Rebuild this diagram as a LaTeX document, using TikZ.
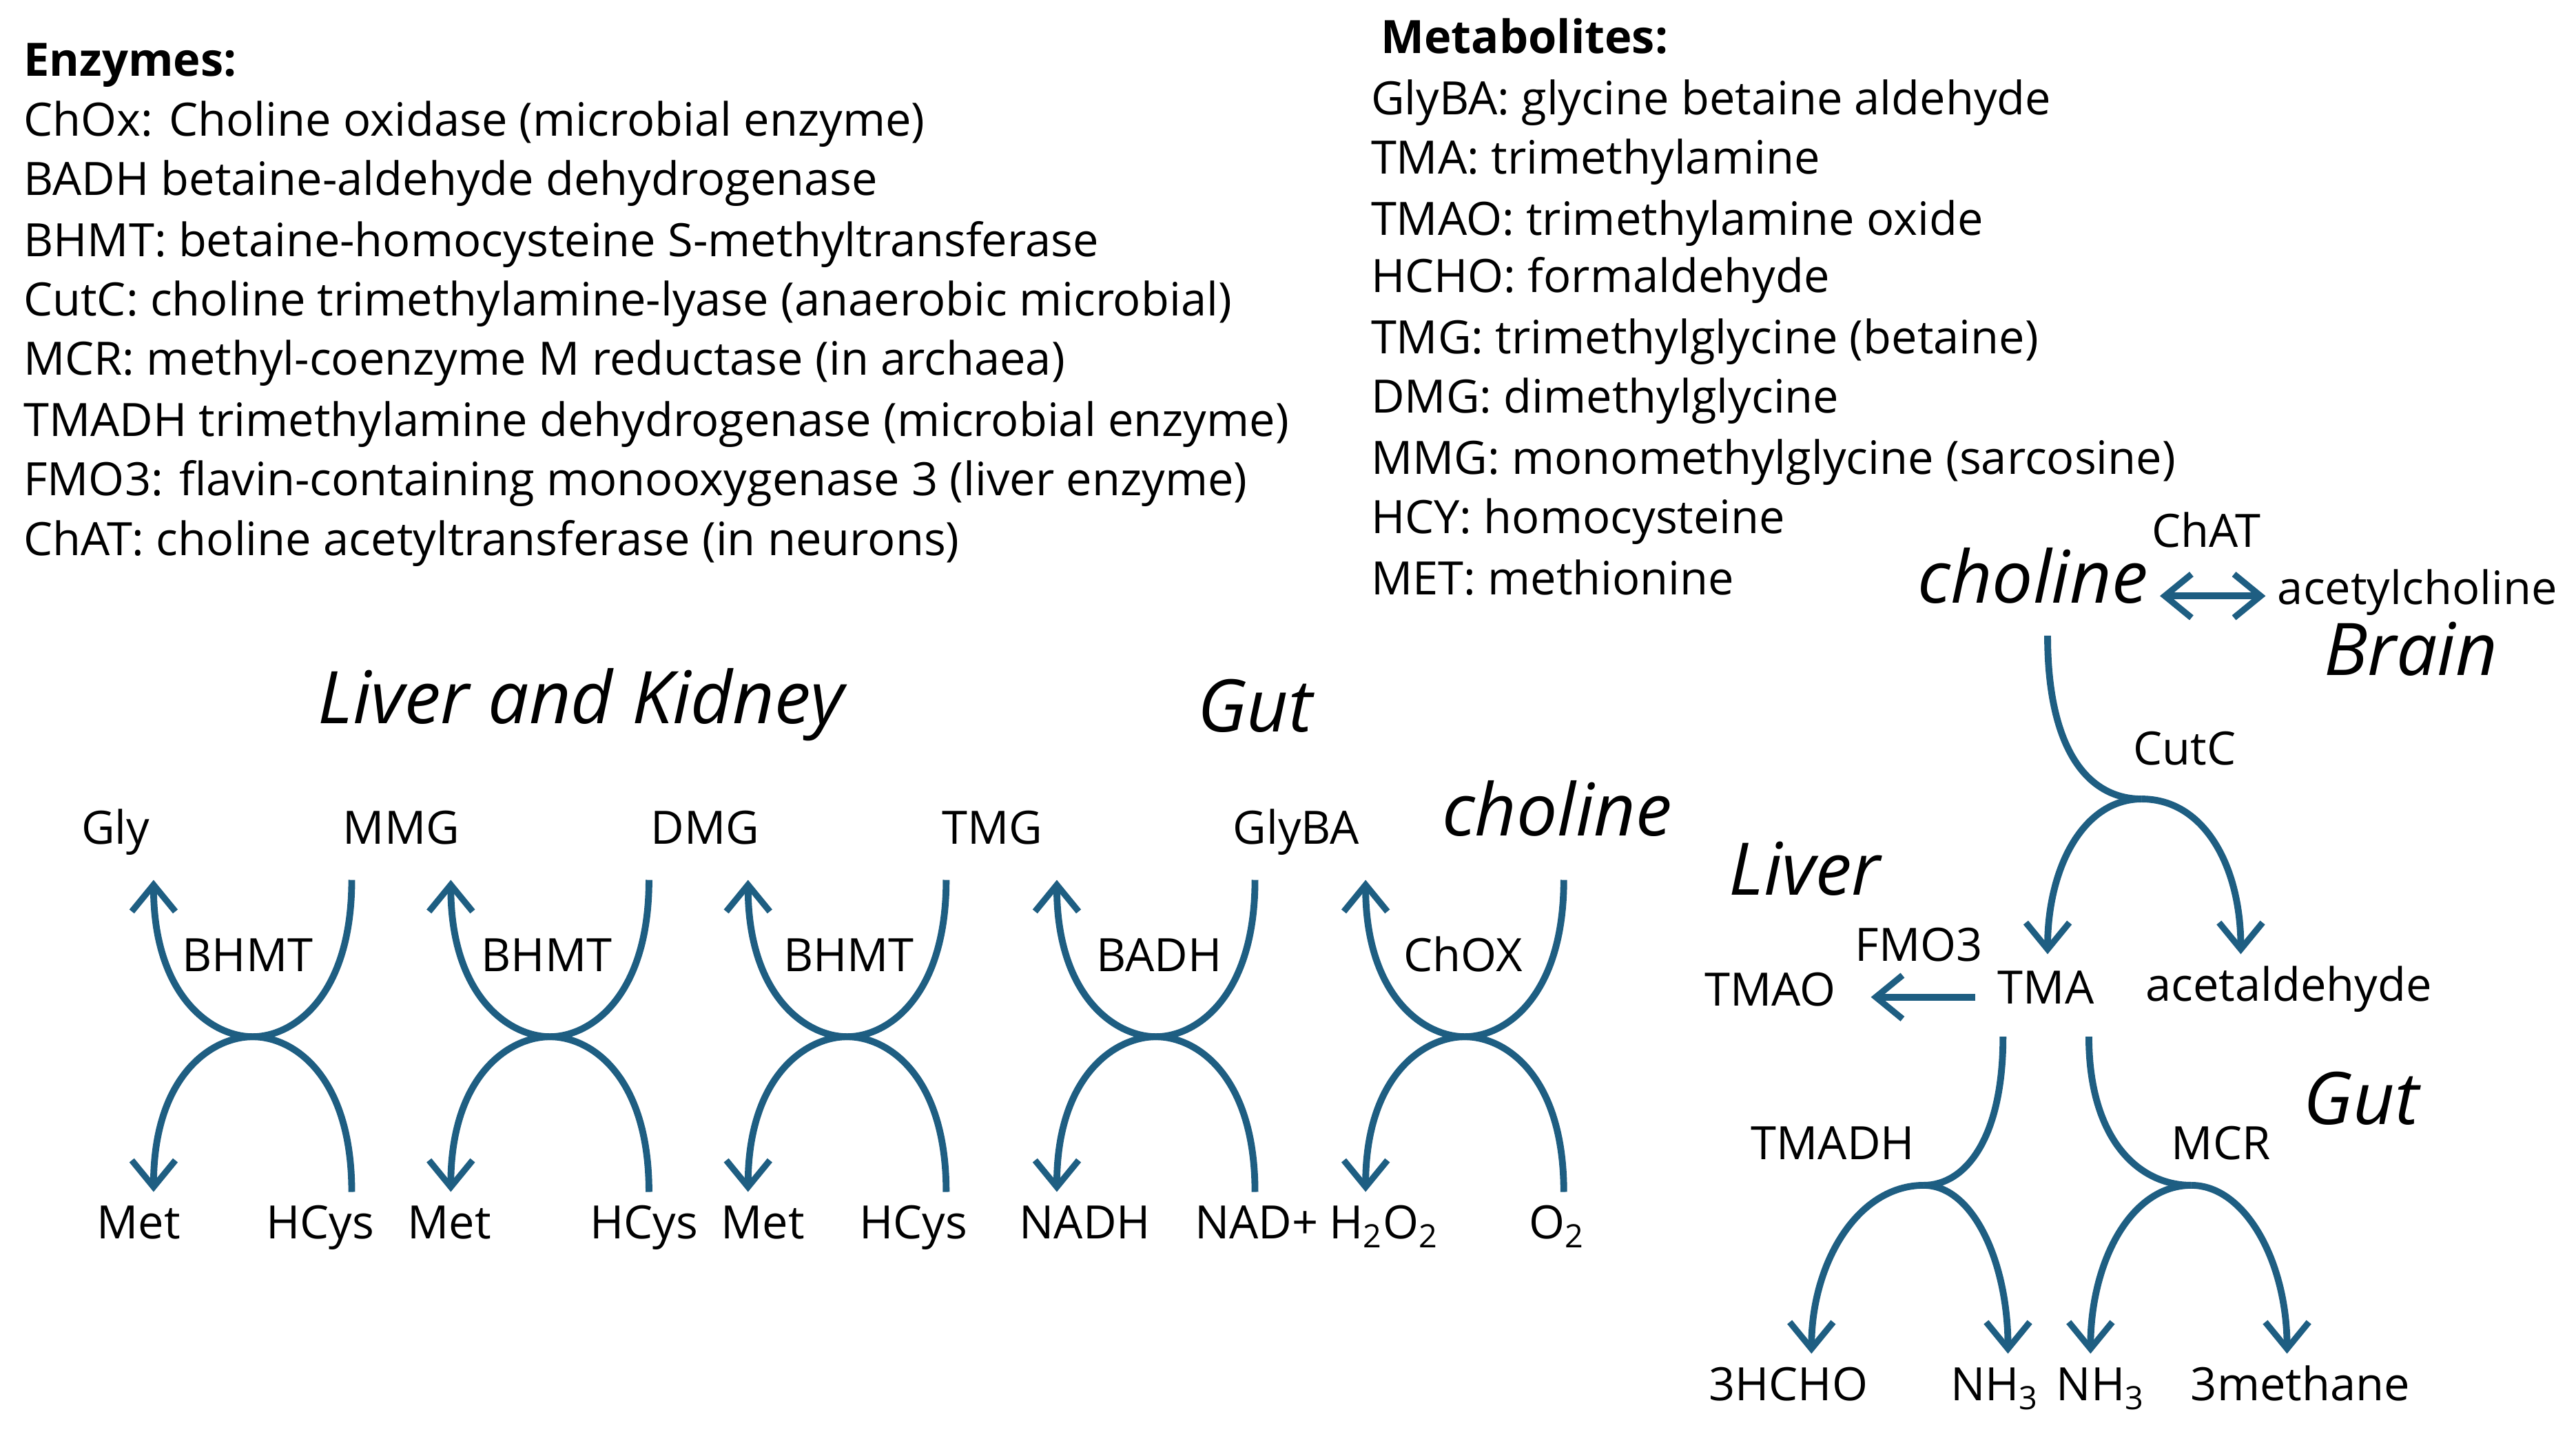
\documentclass[tikz,border=0pt]{standalone}
\usepackage{fontspec}
\setmainfont{Open Sans}
\usetikzlibrary{arrows.meta, positioning, calc}
\definecolor{PathBlue}{RGB}{30, 94, 130}
\begin{document}
\begin{tikzpicture}[
  x=0.02397cm, y=-0.02397cm,
  txt/.style={font=\fontsize{19}{22}\selectfont, inner sep=0pt, text height=0.72em, text depth=0em},
  list/.style={txt, anchor=west},
  head/.style={list, font=\fontsize{19}{22}\selectfont\bfseries},
  region/.style={font=\fontsize{30}{34}\selectfont\itshape, inner sep=0pt, text height=0.72em, text depth=0em},
  flow/.style={draw=PathBlue, line width=2.8pt},
  arrow/.style={flow, -{Straight Barb[length=11pt, width=18pt, line width=2.6pt]}},
  darrow/.style={flow, {Straight Barb[length=11pt, width=18pt, line width=2.6pt]}-{Straight Barb[length=11pt, width=18pt, line width=2.6pt]}},
]
\useasboundingbox (0,0) rectangle (1560,868.6);

% legends
\node[head] (enz) at (14,41) {Enzymes:};
\node[list] at (14,77) {ChOx: Choline oxidase (microbial enzyme)};
\node[list] at (14,113) {BADH betaine-aldehyde dehydrogenase};
\node[list] at (14,150) {BHMT: betaine-homocysteine S-methyltransferase};
\node[list] at (14,186) {CutC: choline trimethylamine-lyase (anaerobic microbial)};
\node[list] at (14,222) {MCR: methyl-coenzyme M reductase (in archaea)};
\node[list] at (14,259) {TMADH trimethylamine dehydrogenase (microbial enzyme)};
\node[list] at (14,295) {FMO3: flavin-containing monooxygenase 3 (liver enzyme)};
\node[list] at (14,331) {ChAT: choline acetyltransferase (in neurons)};

\node[head] (met) at (836,27) {Metabolites:};
\node[list] at (830,64) {GlyBA: glycine betaine aldehyde};
\node[list] at (830,100) {TMA: trimethylamine};
\node[list] at (830,137) {TMAO: trimethylamine oxide};
\node[list] at (830,172) {HCHO: formaldehyde};
\node[list] at (830,209) {TMG: trimethylglycine (betaine)};
\node[list] at (830,245) {DMG: dimethylglycine};
\node[list] at (830,282) {MMG: monomethylglycine (sarcosine)};
\node[list] at (830,318) {HCY: homocysteine};
\node[list] at (830,355) {MET: methionine};

% liver and kidney, gut
\node[region] (lk) at (352,433) {Liver and Kidney};
\node[region] (gut1) at (760,438) {Gut};
\node[region] (cho1) at (943,501) {choline};

\node[txt] (gly) at (70,506) {Gly};
\node[txt] (mmg) at (243,506) {MMG};
\node[txt] (dmg) at (427,506) {DMG};
\node[txt] (tmg) at (601,506) {TMG};
\node[txt] (glyba) at (785,506) {GlyBA};

\node[txt] (e1) at (150,583) {BHMT};
\node[txt] (e2) at (331,583) {BHMT};
\node[txt] (e3) at (514,583) {BHMT};
\node[txt] (e4) at (702,583) {BADH};
\node[txt] (e5) at (886,583) {ChOX};

\node[txt] (met1) at (84,745) {Met};
\node[txt] (hcy1) at (194,745) {HCys};
\node[txt] (met2) at (272,745) {Met};
\node[txt] (hcy2) at (390,745) {HCys};
\node[txt] (met3) at (462,745) {Met};
\node[txt] (hcy3) at (553,745) {HCys};
\node[txt] (nadh) at (657,745) {NADH};
\node[txt] (nad) at (761,745) {NAD+};
\node[txt] (hoo) at (838,745) {H\textsubscript{2}O\textsubscript{2}};
\node[txt] (oo) at (943,745) {O\textsubscript{2}};

\foreach \n/\x in {a/153, b/333, c/513, d/700, e/887} {
  \coordinate (\n-x) at (\x,628);
  \coordinate (\n-tl) at (\x-60,533);
  \coordinate (\n-tr) at (\x+60,533);
  \coordinate (\n-bl) at (\x-60,722);
  \coordinate (\n-br) at (\x+60,722);
  \draw[arrow] (\n-tr) .. controls ($(\n-tr)+(0,70)$) and ($(\n-x)+(25,0)$) .. (\n-x)
    .. controls ($(\n-x)+(-25,0)$) and ($(\n-tl)+(0,70)$) .. (\n-tl);
  \draw[arrow] (\n-br) .. controls ($(\n-br)+(0,-70)$) and ($(\n-x)+(25,0)$) .. (\n-x)
    .. controls ($(\n-x)+(-25,0)$) and ($(\n-bl)+(0,-70)$) .. (\n-bl);
}

% right part
\node[region] (cho2) at (1231,360) {choline};
\node[txt, anchor=west] (ach) at (1379,361) {acetylcholine};
\node[txt] (chat) at (1336,326) {ChAT};
\node[region] (brain) at (1460,404) {Brain};
\coordinate (chl) at (1308,361);
\coordinate (chr) at (1372,361);
\draw[darrow] (chl) -- (chr);

\node[txt] (cutc) at (1323,458) {CutC};
\coordinate (cs) at (1240,385);
\coordinate (cj) at (1297,484);
\coordinate (ca) at (1240,578);
\coordinate (cb) at (1357,578);
\draw[flow] (cs) .. controls (1240,455) and (1265,484) .. (cj);
\draw[arrow] (cj) .. controls (1262,484) and (1240,525) .. (ca);
\draw[arrow] (cj) .. controls (1335,484) and (1357,525) .. (cb);

\node[region] (liver) at (1093,537) {Liver};
\node[txt] (tma) at (1239,603) {TMA};
\node[txt] (acet) at (1386,601) {acetaldehyde};
\node[txt] (tmao) at (1072,604) {TMAO};
\node[txt] (fmo) at (1162,577) {FMO3};
\coordinate (fa) at (1196,604);
\coordinate (fb) at (1133,604);
\draw[arrow] (fa) -- (fb);

\node[txt] (tmadh) at (1110,697) {TMADH};
\node[txt] (mcr) at (1345,697) {MCR};
\node[region] (gut2) at (1430,676) {Gut};
\coordinate (ls) at (1213,628);
\coordinate (lj) at (1165,718);
\coordinate (la) at (1097,820);
\coordinate (lb) at (1216,820);
\draw[flow] (ls) .. controls (1213,690) and (1190,718) .. (lj);
\draw[arrow] (lj) .. controls (1125,718) and (1097,765) .. (la);
\draw[arrow] (lj) .. controls (1195,718) and (1216,765) .. (lb);
\coordinate (rs) at (1265,628);
\coordinate (rj) at (1327,718);
\coordinate (ra) at (1266,820);
\coordinate (rb) at (1385,820);
\draw[flow] (rs) .. controls (1265,690) and (1295,718) .. (rj);
\draw[arrow] (rj) .. controls (1290,718) and (1266,765) .. (ra);
\draw[arrow] (rj) .. controls (1360,718) and (1385,765) .. (rb);

\node[txt] (hcho) at (1083,843) {3HCHO};
\node[txt] (nh1) at (1208,843) {NH\textsubscript{3}};
\node[txt] (nh2) at (1272,843) {NH\textsubscript{3}};
\node[txt] (meth) at (1393,843) {3methane};
\end{tikzpicture}
\end{document}
